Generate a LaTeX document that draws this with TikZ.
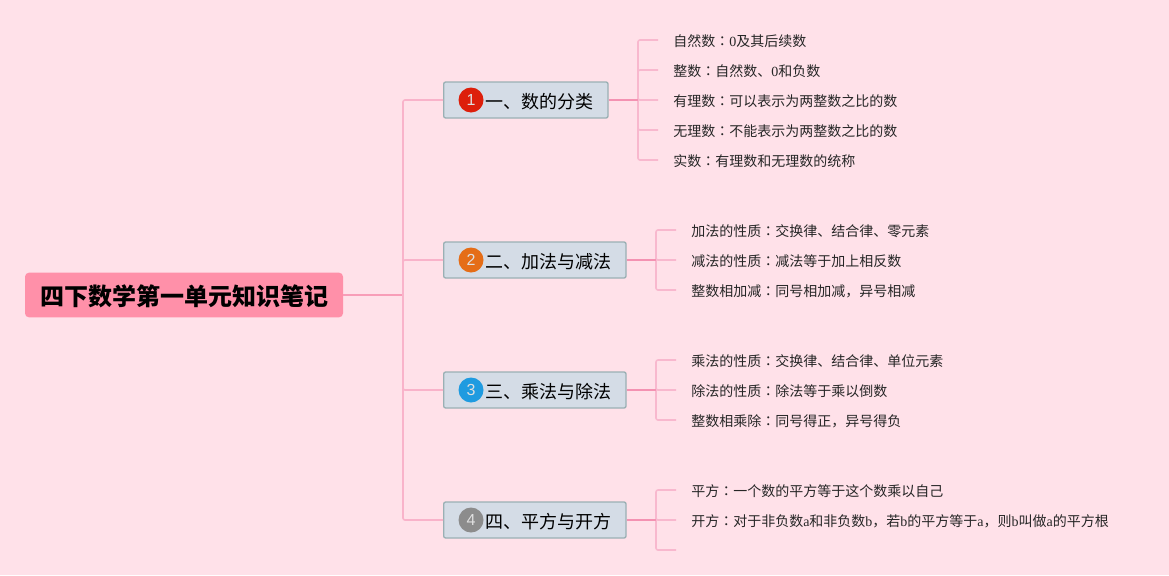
\documentclass[tikz,border=0pt]{standalone}
\usepackage{fontspec}
\setmainfont{Noto Sans CJK SC}
\newfontfamily\latinfont{Liberation Serif}
\newfontfamily\badgefont{Liberation Sans}
\newfontfamily\colonfont{Noto Sans CJK TC}
\usetikzlibrary{positioning,calc}
\definecolor{paper}{HTML}{FFE1E9}
\definecolor{rootpink}{HTML}{FF90A9}
\definecolor{topicfill}{HTML}{D4DCE6}
\definecolor{topicedge}{HTML}{9AB0B4}
\definecolor{rootline}{HTML}{F89DB8}
\definecolor{stemline}{HTML}{F492B2}
\definecolor{branchline}{HTML}{F9B3CA}
\definecolor{twigline}{HTML}{F8B8CE}
\definecolor{badgered}{HTML}{DD1F0B}
\definecolor{badgeorange}{HTML}{E56D17}
\definecolor{badgeblue}{HTML}{1F9BE0}
\definecolor{badgegray}{HTML}{8C8C8C}
\newcommand{\num}[1]{{\latinfont #1}}
\newcommand{\sep}{{\colonfont ：}}

\begin{document}
\begin{tikzpicture}[x=.75pt,y=-.75pt,node distance=22.5pt,
   root/.style={fill=rootpink,rounded corners=3pt,inner sep=0pt,minimum width=238.5pt,
     minimum height=33.5pt,text height=17pt,text depth=2pt,font=\fontsize{18}{18}\selectfont\bfseries},
   topic/.style={draw=topicedge,fill=topicfill,line width=1pt,rounded corners=1.5pt,inner ysep=0pt,
     inner xsep=11pt,minimum height=27pt,text height=13.5pt,text depth=1.5pt,anchor=west,font=\fontsize{13.5}{14}\selectfont},
   badge/.style={circle,inner sep=0pt,minimum size=18.75pt,text=white!88!black,font=\badgefont\fontsize{12}{12}\selectfont},
   leaf/.style={anchor=west,inner ysep=0pt,inner xsep=11.25pt,text height=11pt,text depth=1.5pt,
     text=black!85,font=\fontsize{10.5}{11}\selectfont},
   stem/.style={stemline,line width=1.3pt},
   branch/.style={branchline,line width=1.2pt,rounded corners=1.5pt},
   twig/.style={twigline,line width=1.2pt,rounded corners=1.5pt}]
  \fill[paper] (0,0) rectangle (1169,575);
  \useasboundingbox (0,0) rectangle (1169,575);

  \node (root) [root] at (184,295) {四下数学第一单元知识笔记};
  \coordinate (spine) at (403,295);

  \node (t1) [topic] at (443,100) {\hspace{20.25pt}一、数的分类};
  \node (t2) [topic] at (443,260) {\hspace{20.25pt}二、加法与减法};
  \node (t3) [topic] at (443,390) {\hspace{20.25pt}三、乘法与除法};
  \node (t4) [topic] at (443,520) {\hspace{20.25pt}四、平方与开方};

  \node (n1) [badge,fill=badgered] at (471,100) {1};
  \node (n2) [badge,fill=badgeorange] at (471,260) {2};
  \node (n3) [badge,fill=badgeblue] at (471,390) {3};
  \node (n4) [badge,fill=badgegray] at (471,520) {4};

  \node (l11) [leaf] at (658,40) {自然数\sep\num{0}及其后续数};
  \node (l12) [leaf,below=of l11.west,anchor=west] {整数\sep 自然数、\num{0}和负数};
  \node (l13) [leaf,below=of l12.west,anchor=west] {有理数\sep 可以表示为两整数之比的数};
  \node (l14) [leaf,below=of l13.west,anchor=west] {无理数\sep 不能表示为两整数之比的数};
  \node (l15) [leaf,below=of l14.west,anchor=west] {实数\sep 有理数和无理数的统称};

  \node (l21) [leaf] at (676,230) {加法的性质\sep 交换律、结合律、零元素};
  \node (l22) [leaf,below=of l21.west,anchor=west] {减法的性质\sep 减法等于加上相反数};
  \node (l23) [leaf,below=of l22.west,anchor=west] {整数相加减\sep 同号相加减，异号相减};

  \node (l31) [leaf] at (676,360) {乘法的性质\sep 交换律、结合律、单位元素};
  \node (l32) [leaf,below=of l31.west,anchor=west] {除法的性质\sep 除法等于乘以倒数};
  \node (l33) [leaf,below=of l32.west,anchor=west] {整数相乘除\sep 同号得正，异号得负};

  \node (l41) [leaf] at (676,490) {平方\sep 一个数的平方等于这个数乘以自己};
  \node (l42) [leaf,below=of l41.west,anchor=west] {开方\sep 对于非负数\num{a}和非负数\num{b}，若\num{b}的平方等于\num{a}，则\num{b}叫做\num{a}的平方根};
  \coordinate (l43) at (676,550);

  \coordinate (s1) at (638,100);
  \coordinate (s2) at (656,260);
  \coordinate (s3) at (656,390);
  \coordinate (s4) at (656,520);

  \draw[rootline,line width=1.3pt] (root.east) -- (spine);
  \foreach \t in {t1,t2,t3,t4}
    \draw[branch] (spine) |- (\t.west);

  \foreach \s/\l in {s1/l11.west,s1/l12.west,s1/l13.west,s1/l14.west,s1/l15.west,
    s2/l21.west,s2/l22.west,s2/l23.west,s3/l31.west,s3/l32.west,s3/l33.west,
    s4/l41.west,s4/l42.west,s4/l43}
    \draw[twig] (\s) |- (\l);

  \foreach \t/\s in {t1/s1,t2/s2,t3/s3,t4/s4}
    \draw[stem] (\t.east) -- (\s);
\end{tikzpicture}
\end{document}
